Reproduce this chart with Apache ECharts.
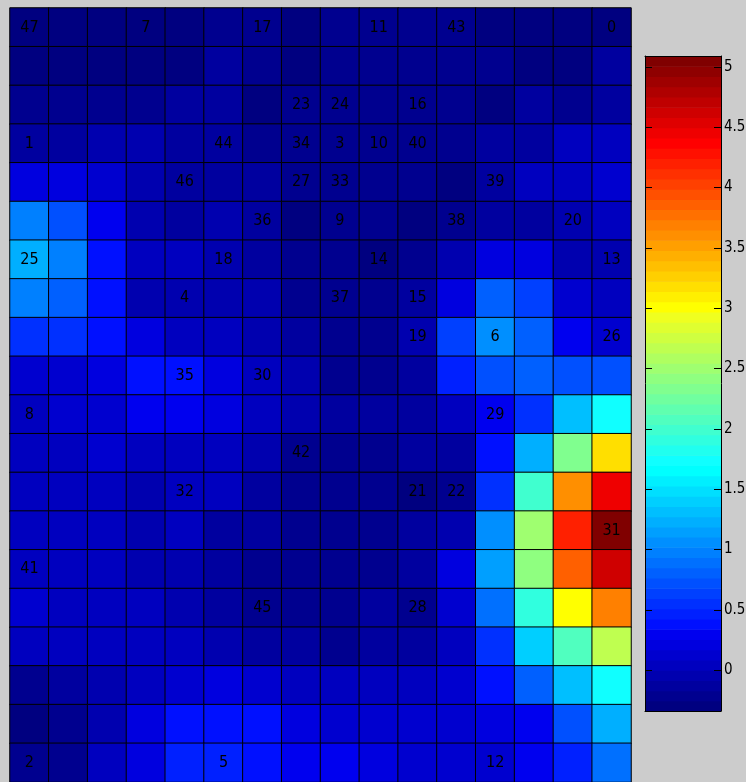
<!DOCTYPE html>
<html>
<head>
<meta charset="utf-8">
<style>
  html, body { margin: 0; padding: 0; background: #cccccc; }
  #chart { width: 746px; height: 782px; }
</style>
<script src="https://cdn.jsdelivr.net/npm/echarts@6/dist/echarts.min.js"></script>
</head>
<body>
<div id="chart"></div>
<script>
// ---------------- data ----------------
const columns = ['1','2','3','4','5','6','7','8','9','10','11','12','13','14','15','16'];
const rows = ['1','2','3','4','5','6','7','8','9','10','11','12','13','14','15','16','17','18','19','20'];

// cell values, one array per row (top row first)
const cellValues = [
  [-0.29,-0.29,-0.29,-0.26,-0.29,-0.18,-0.18,-0.26,-0.24,-0.24,-0.24,-0.24,-0.26,-0.29,-0.29,-0.26],
  [-0.29,-0.29,-0.29,-0.26,-0.29,-0.16,-0.24,-0.26,-0.24,-0.21,-0.21,-0.21,-0.24,-0.26,-0.34,-0.16],
  [-0.24,-0.21,-0.21,-0.18,-0.16,-0.16,-0.26,-0.24,-0.21,-0.21,-0.21,-0.21,-0.26,-0.16,-0.18,-0.16],
  [-0.10,-0.10,-0.08,-0.05,-0.13,-0.16,-0.21,-0.24,-0.21,-0.24,-0.24,-0.24,-0.10,-0.13,0.00,0.03],
  [0.22,0.24,0.14,-0.08,-0.10,-0.13,-0.16,-0.24,-0.24,-0.24,-0.24,-0.26,-0.16,0.03,0.08,0.11],
  [0.98,0.72,0.30,-0.05,-0.10,-0.08,-0.16,-0.26,-0.21,-0.24,-0.26,-0.18,-0.10,-0.10,-0.08,0.00],
  [1.20,0.98,0.40,0.00,0.00,-0.05,-0.10,-0.21,-0.24,-0.26,-0.21,-0.08,0.22,0.19,-0.05,-0.02],
  [0.98,0.81,0.42,-0.02,-0.05,-0.05,-0.08,-0.18,-0.21,-0.24,-0.10,0.24,0.78,0.62,0.14,0.00],
  [0.55,0.55,0.42,0.22,0.08,0.06,-0.02,-0.10,-0.18,-0.21,-0.05,0.62,1.08,0.81,0.32,0.16],
  [0.16,0.16,0.19,0.35,0.40,0.19,0.08,-0.08,-0.18,-0.18,-0.10,0.44,0.75,0.78,0.68,0.75],
  [0.06,0.14,0.16,0.32,0.32,0.22,0.08,-0.05,-0.10,-0.13,-0.10,0.03,0.27,0.57,1.32,1.74],
  [0.00,0.06,0.14,0.03,0.03,0.06,-0.08,-0.18,-0.18,-0.21,-0.16,-0.10,0.36,1.23,2.34,3.19],
  [0.03,0.08,0.06,-0.08,0.00,0.00,-0.10,-0.18,-0.18,-0.18,-0.26,-0.18,0.53,2.00,3.60,4.45],
  [0.03,0.03,0.03,-0.08,0.00,-0.10,-0.10,-0.18,-0.18,-0.18,-0.16,-0.08,1.06,2.51,4.20,5.09],
  [0.03,0.06,0.03,-0.05,-0.02,-0.10,-0.18,-0.21,-0.18,-0.18,-0.13,0.22,1.12,2.45,3.87,4.62],
  [0.11,0.08,0.08,0.03,-0.02,-0.13,-0.18,-0.24,-0.18,-0.16,-0.21,0.14,0.92,1.91,3.02,3.70],
  [0.03,0.08,0.06,0.03,0.03,-0.05,-0.10,-0.16,-0.18,-0.16,-0.13,0.06,0.57,1.40,2.08,2.68],
  [-0.18,-0.10,-0.02,0.08,0.14,0.19,0.16,0.08,0.03,0.03,0.06,0.11,0.36,0.78,1.30,1.74],
  [-0.29,-0.21,-0.02,0.22,0.38,0.35,0.35,0.24,0.16,0.14,0.11,0.14,0.22,0.32,0.68,1.20],
  [-0.24,-0.21,0.03,0.24,0.43,0.43,0.41,0.30,0.32,0.19,0.16,0.14,0.11,0.30,0.45,0.85]
];

// cell text labels: [row, col, text]
const cellLabels = [
  [0,0,'47'],[0,3,'7'],[0,6,'17'],[0,9,'11'],[0,11,'43'],[0,15,'0'],
  [2,7,'23'],[2,8,'24'],[2,10,'16'],
  [3,0,'1'],[3,5,'44'],[3,7,'34'],[3,8,'3'],[3,9,'10'],[3,10,'40'],
  [4,4,'46'],[4,7,'27'],[4,8,'33'],[4,12,'39'],
  [5,6,'36'],[5,8,'9'],[5,11,'38'],[5,14,'20'],
  [6,0,'25'],[6,5,'18'],[6,9,'14'],[6,15,'13'],
  [7,4,'4'],[7,8,'37'],[7,10,'15'],
  [8,10,'19'],[8,12,'6'],[8,15,'26'],
  [9,4,'35'],[9,6,'30'],
  [10,0,'8'],[10,12,'29'],
  [11,7,'42'],
  [12,4,'32'],[12,10,'21'],[12,11,'22'],
  [13,15,'31'],
  [14,0,'41'],
  [15,6,'45'],[15,10,'28'],
  [19,0,'2'],[19,5,'5'],[19,12,'12']
];

// colour scale limits and colour-bar tick labels
const colorMin = -0.34;
const colorMax = 5.09;
const colorbarTicks = [0, 0.5, 1, 1.5, 2, 2.5, 3, 3.5, 4, 4.5, 5];

// ---------------- styling helpers ----------------
const N_LEVELS = 64;
function jetColor(i) { // i = 1..64 (MATLAB jet(64))
  const r = i <= 24 ? 0 : i <= 40 ? (i - 24) / 16 : i <= 55 ? 1 : (72 - i) / 16;
  const g = i <= 8 ? 0 : i <= 24 ? (i - 8) / 16 : i <= 39 ? 1 : i <= 55 ? (56 - i) / 16 : 0;
  const b = i <= 9 ? (i + 7) / 16 : i <= 24 ? 1 : i <= 39 ? (41 - i) / 16 : 0;
  return 'rgb(' + Math.round(r * 255) + ',' + Math.round(g * 255) + ',' + Math.round(b * 255) + ')';
}
function levelOf(v) {
  let k = Math.floor((v - colorMin) / (colorMax - colorMin) * N_LEVELS) + 1;
  return Math.max(1, Math.min(N_LEVELS, k));
}

const labelMap = {};
cellLabels.forEach(function (l) { labelMap[l[0] + ',' + l[1]] = l[2]; });

const heatData = [];
cellValues.forEach(function (rowArr, r) {
  rowArr.forEach(function (v, c) {
    heatData.push({ value: [c, r, v], itemStyle: { color: jetColor(levelOf(v)) } });
  });
});

const levelData = [];
for (let k = 0; k < N_LEVELS; k++) levelData.push([0, k]);
const step = (colorMax - colorMin) / N_LEVELS;
const tickData = colorbarTicks.map(function (t) { return [0, t]; });

const FONT = '"Liberation Sans Narrow", "DejaVu Sans Condensed", "Liberation Sans", sans-serif';
const blackLine = { show: true, onZero: false, lineStyle: { color: '#000', width: 1 } };

const chart = echarts.init(document.getElementById('chart'), null, { renderer: 'canvas' });
chart.setOption({
  backgroundColor: '#cccccc',
  animation: false,
  grid: [
    { left: 10, top: 8, width: 621, height: 774, containLabel: false, outerBoundsMode: 'none' },
    { left: 645, top: 56, width: 76, height: 655, containLabel: false, outerBoundsMode: 'none' }
  ],
  xAxis: [
    { gridIndex: 0, type: 'category', data: columns, show: false },
    { gridIndex: 1, type: 'value', min: 0, max: 1, position: 'bottom', z: 10,
      axisLine: blackLine,
      axisTick: { show: false }, axisLabel: { show: false }, splitLine: { show: false } },
    { gridIndex: 1, type: 'value', min: 0, max: 1, position: 'top', z: 10,
      axisLine: blackLine,
      axisTick: { show: false }, axisLabel: { show: false }, splitLine: { show: false } }
  ],
  yAxis: [
    { gridIndex: 0, type: 'category', data: rows, inverse: true, show: false },
    { gridIndex: 1, type: 'value', min: colorMin, max: colorMax, position: 'right', z: 10,
      axisLine: blackLine,
      axisTick: { show: false },
      axisLabel: { show: true, customValues: colorbarTicks, margin: 3, color: '#000', fontSize: 15, fontFamily: FONT },
      splitLine: { show: false } },
    { gridIndex: 1, type: 'value', min: colorMin, max: colorMax, position: 'left', z: 10,
      axisLine: blackLine,
      axisTick: { show: false },
      axisLabel: { show: false }, splitLine: { show: false } }
  ],
  series: [
    {
      type: 'heatmap',
      xAxisIndex: 0, yAxisIndex: 0,
      data: heatData,
      itemStyle: { borderColor: '#000', borderWidth: 1 },
      label: {
        show: true,
        color: '#000',
        fontSize: 16,
        fontFamily: FONT,
        formatter: function (p) { return labelMap[p.value[1] + ',' + p.value[0]] || ''; }
      },
      emphasis: { disabled: true }
    },
    {
      type: 'custom',
      xAxisIndex: 1, yAxisIndex: 1,
      data: levelData,
      silent: true,
      z: 2,
      renderItem: function (params, api) {
        const k = api.value(1);
        const lo = colorMin + k * step;
        const hi = lo + step;
        const p1 = api.coord([0, hi]);
        const p2 = api.coord([1, lo]);
        return {
          type: 'rect',
          shape: { x: p1[0], y: p1[1], width: p2[0] - p1[0], height: p2[1] - p1[1] + 0.6 },
          style: { fill: jetColor(k + 1) }
        };
      }
    },
    {
      type: 'custom',
      xAxisIndex: 1, yAxisIndex: 1,
      data: tickData,
      silent: true,
      z: 5,
      renderItem: function (params, api) {
        const t = api.value(1);
        const a = api.coord([0, t]);
        const b = api.coord([1, t]);
        const y = Math.round(a[1]) + 0.5;
        return {
          type: 'group',
          children: [
            { type: 'line', shape: { x1: a[0], y1: y, x2: a[0] + 7, y2: y }, style: { stroke: '#000', lineWidth: 1 } },
            { type: 'line', shape: { x1: b[0] - 7, y1: y, x2: b[0], y2: y }, style: { stroke: '#000', lineWidth: 1 } }
          ]
        };
      }
    }
  ]
});
</script>
</body>
</html>
